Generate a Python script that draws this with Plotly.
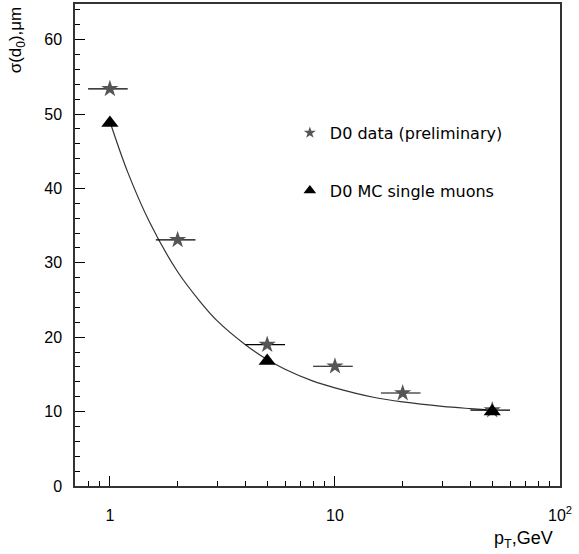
import plotly.graph_objects as go

# D0 data (preliminary)
pt_data = [1, 2, 5, 10, 20, 50]
sigma_data = [53.4, 33.1, 19.0, 16.1, 12.5, 10.2]
pt_err = [0.2, 0.4, 1, 2, 4, 10]

# D0 MC single muons
pt_mc = [1, 5, 50]
sigma_mc = [48.8, 16.8, 10.0]

# fitted curve
pt_fit = [1, 1.2, 1.5, 2, 2.5, 3, 4, 5, 6, 8, 10, 15, 20, 30, 40, 50]
sigma_fit = [49, 42.2, 35.5, 28.8, 24.9, 22.2, 19.0, 17.0, 15.7, 14.1, 13.2, 11.9, 11.3, 10.7, 10.4, 10.2]

x_tickvals = [1, 10, 100]
x_ticktext = ["1", "10", "10<sup>2</sup>"]
x_minor = [0.8, 0.9, 2, 3, 4, 5, 6, 7, 8, 9, 20, 30, 40, 50, 60, 70, 80, 90]

fnt = "Liberation Sans, Arial, sans-serif"

fig = go.Figure()
fig.add_trace(go.Scatter(x=pt_fit, y=sigma_fit, mode="lines", line=dict(color="#333", width=1.2, shape="spline"),
                         showlegend=False, hoverinfo="skip"))
fig.add_trace(go.Scatter(x=pt_data, y=sigma_data, mode="markers", showlegend=False,
                         marker=dict(symbol="star", size=13, color="#555"),
                         error_x=dict(type="data", array=pt_err, color="black", thickness=1.2, width=0)))
fig.add_trace(go.Scatter(x=pt_mc, y=sigma_mc, mode="markers", showlegend=False,
                         marker=dict(symbol="triangle-up", size=15, color="black")))
# legend entries (smaller symbols, like the reference)
fig.add_trace(go.Scatter(x=[None], y=[None], mode="markers", name="D0 data (preliminary)",
                         marker=dict(symbol="star", size=9, color="#555"), legendgroup="a"))
fig.add_trace(go.Scatter(x=[None], y=[None], mode="markers", name="D0 MC single muons",
                         marker=dict(symbol="triangle-up", size=11, color="black"), legendgroup="b"))

fig.update_layout(
    width=579, height=554,
    margin=dict(l=75, r=19, t=2, b=68),
    plot_bgcolor="white", paper_bgcolor="white",
    font=dict(family=fnt, size=16, color="black"),
    legend=dict(x=0.443, y=0.768, xanchor="left", yanchor="top", bgcolor="rgba(0,0,0,0)",
                tracegroupgap=34, font=dict(size=16, family="DejaVu Sans, sans-serif")),
    annotations=[
        dict(text="σ(d<sub>0</sub>),μm", xref="paper", yref="paper", x=-0.12, y=1.0,
             xanchor="center", yanchor="top", textangle=-90, showarrow=False, font=dict(size=17)),
        dict(text="p<sub>T</sub>,GeV", xref="paper", yref="paper", x=0.99, y=-0.112,
             xanchor="right", yanchor="middle", showarrow=False, font=dict(size=18)),
    ],
)
fig.update_xaxes(type="log", range=[-0.155, 2], tickvals=x_tickvals, ticktext=x_ticktext,
                 ticks="inside", ticklen=10, tickcolor="black", showgrid=False, zeroline=False,
                 showline=True, linecolor="#333", linewidth=1.5, mirror=True, ticklabelstandoff=14,
                 minor=dict(tickvals=x_minor, ticks="inside", ticklen=5, tickcolor="black", showgrid=False))
fig.update_yaxes(range=[0, 64.8], dtick=10, ticks="inside", ticklen=10, tickcolor="black",
                 showgrid=False, zeroline=False, showline=True, linecolor="#333", linewidth=1.5,
                 mirror=True, ticklabelstandoff=8,
                 minor=dict(dtick=2, ticks="inside", ticklen=5, tickcolor="black", showgrid=False))

# drop the default body margin so the figure sits at the page origin
fig.write_html("out.html", config={"displayModeBar": False},
               post_script="document.body.style.margin='0';")
